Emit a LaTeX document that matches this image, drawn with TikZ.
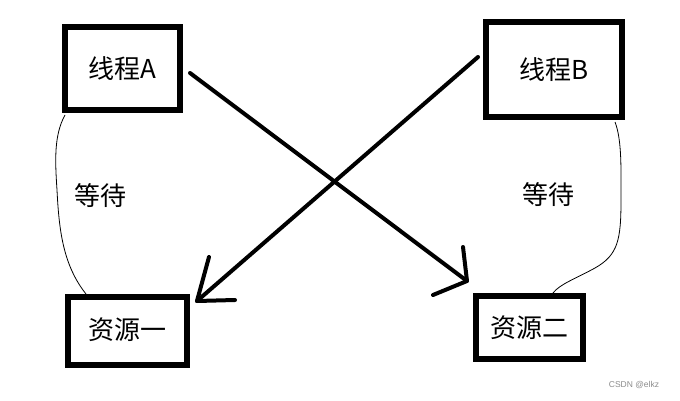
\documentclass[tikz,border=0pt]{standalone}
\usepackage{fontspec}
\setmainfont{Noto Sans CJK SC}
\newfontfamily\wmfont{Liberation Sans}
\begin{document}
\begin{tikzpicture}[x=1pt,y=-1pt,
  box/.style={draw,line width=5.5pt,line join=miter,inner sep=0pt,font=\fontsize{26}{29}\selectfont},
  arr/.style={line width=4pt,line cap=round,line join=round},
  thin/.style={line width=0.8pt}]
\useasboundingbox[fill=white] (0,0) rectangle (680,401);
\node[box,minimum width=115pt,minimum height=83pt] (A) at (122.5,68.5) {线程A};
\node[box,minimum width=136pt,minimum height=95pt] (B) at (554,69.5) {线程B};
\node[box,minimum width=119pt,minimum height=68pt] (R1) at (127.5,331) {\raisebox{5pt}{资源一}};
\node[box,minimum width=107pt,minimum height=63pt] (R2) at (529.5,327.5) {\raisebox{2pt}{资源二}};
% arrows
\coordinate (a1) at (190,73);
\coordinate (t2) at (467,281);
\coordinate (b1) at (478,57);
\coordinate (t1) at (197,301);
\draw[arr] (a1) -- (t2);
\draw[arr] (463,247) -- (t2) -- (433,295);
\draw[arr] (b1) -- (t1);
\draw[arr] (209,257) -- (t1) -- (235,300);
% waiting curves
\coordinate (l1) at (65,115);
\coordinate (l2) at (86,294);
\coordinate (r1) at (615,122);
\coordinate (r2) at (553,293);
\draw[thin] (l1) .. controls (54,135) and (55,160) .. (57,190)
  .. controls (59,230) and (63,265) .. (l2);
\draw[thin] (r1) .. controls (622,140) and (621,170) .. (621,200)
  .. controls (621,240) and (618,255) .. (595,268)
  .. controls (575,279) and (560,284) .. (r2);
\node[font=\fontsize{26}{29}\selectfont] (w1) at (100,196) {等待};
\node[font=\fontsize{26}{29}\selectfont] (w2) at (548,195) {等待};
\node[font=\wmfont\fontsize{8.5}{10}\selectfont,text=black!45] (wm) at (634,385) {CSDN @elkz};
\end{tikzpicture}
\end{document}
